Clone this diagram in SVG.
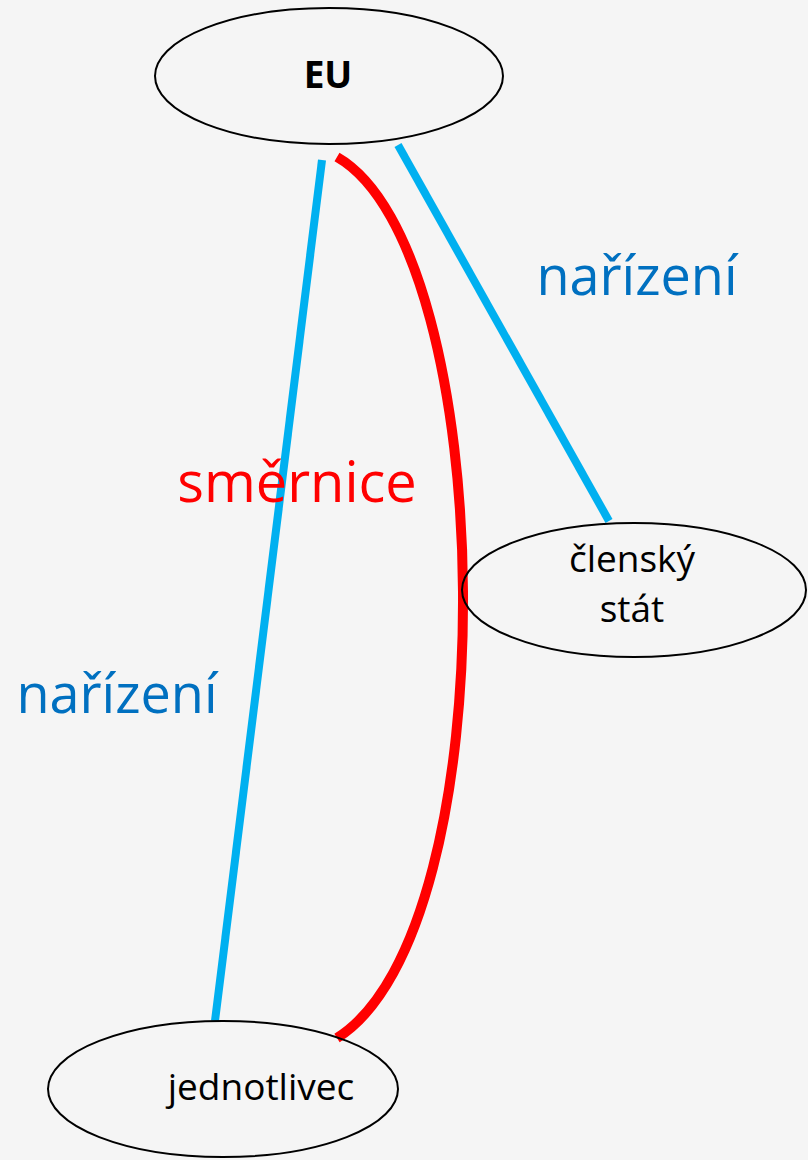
<svg xmlns="http://www.w3.org/2000/svg" width="808" height="1160" viewBox="0 0 808 1160">
<style>
.node{fill:none;stroke:#000;stroke-width:2}
.t{font-family:"Open Sans","Liberation Sans",sans-serif;fill:#000;text-anchor:middle}
.lbl{font-family:"Open Sans","Liberation Sans",sans-serif;text-anchor:middle}
.blue{stroke:#00B0F0;stroke-width:8;fill:none}
.red{stroke:#FF0000;stroke-width:10;fill:none}
</style>
<rect width="808" height="1160" fill="#F5F5F5"/>
<g id="connectors">
<line class="blue" x1="322" y1="160" x2="215" y2="1021"/>
<line class="blue" x1="398" y1="145" x2="609" y2="521"/>
<path class="red" d="M337,157 C500,250 510,930 337,1038"/>
</g>
<g id="node-eu">
<ellipse class="node" cx="329" cy="76" rx="174" ry="68"/>
<text class="t" x="328" y="88" font-size="37" font-weight="bold">EU</text>
</g>
<g id="node-stat">
<ellipse class="node" cx="634" cy="590" rx="172" ry="67"/>
<text class="t" x="632" y="572" font-size="37">členský</text>
<text class="t" x="632" y="622" font-size="37">stát</text>
</g>
<g id="node-jednotlivec">
<ellipse class="node" cx="223" cy="1089" rx="175" ry="68"/>
<text class="t" x="261" y="1100" font-size="37">jednotlivec</text>
</g>
<g id="labels">
<text class="lbl" x="637" y="295" font-size="54" fill="#0070C0">nařízení</text>
<text class="lbl" x="117" y="713" font-size="54" fill="#0070C0">nařízení</text>
<text class="lbl" x="297" y="502" font-size="56" fill="#FF0000">směrnice</text>
</g>
</svg>
